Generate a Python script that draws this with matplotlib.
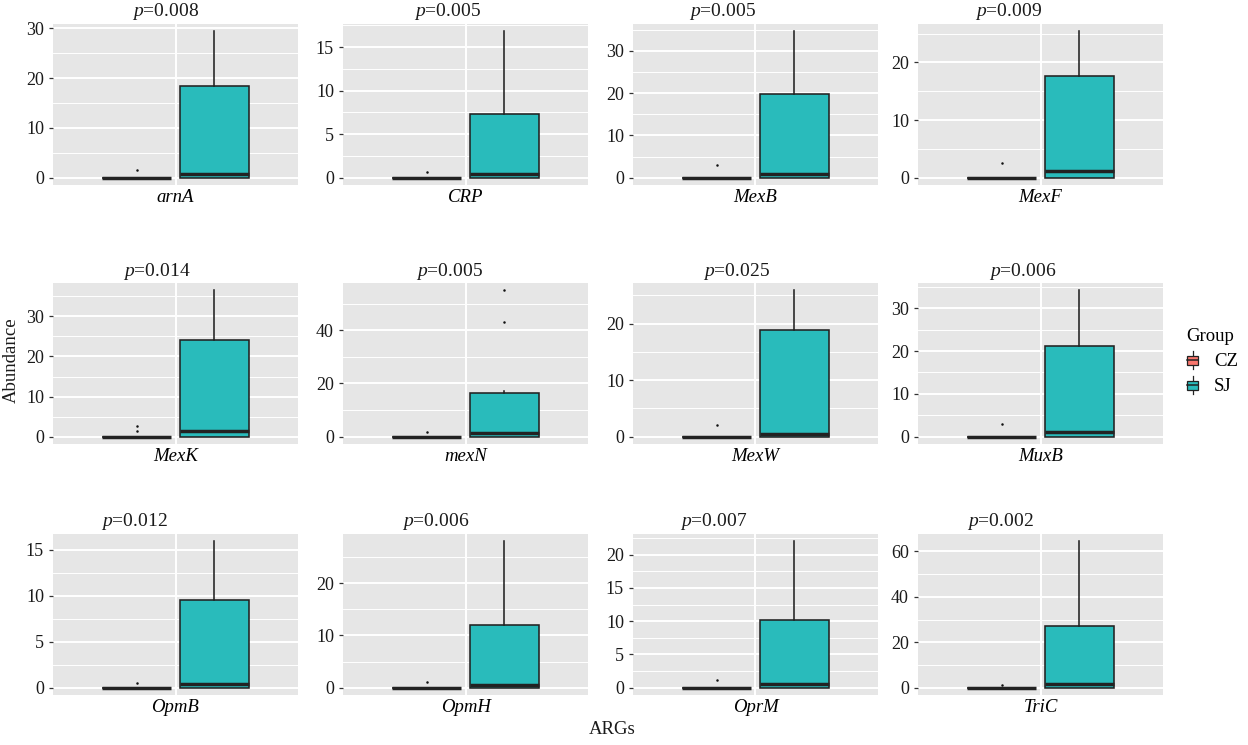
import matplotlib
matplotlib.use("Agg")
import matplotlib.pyplot as plt
from matplotlib.patches import Rectangle, Patch
from matplotlib.lines import Line2D
from matplotlib.legend_handler import HandlerBase
from matplotlib.ticker import FixedLocator, MultipleLocator

plt.rcParams['font.family'] = ['Liberation Serif', 'DejaVu Serif']
plt.rcParams['mathtext.fontset'] = 'custom'
plt.rcParams['mathtext.it'] = 'Liberation Serif:italic'
plt.rcParams['mathtext.rm'] = 'Liberation Serif'

# ---------------- data ----------------
genes = ["arnA", "CRP", "MexB", "MexF", "MexK", "mexN",
         "MexW", "MuxB", "OpmB", "OpmH", "OprM", "TriC"]
p_values = ["0.008", "0.005", "0.005", "0.009", "0.014", "0.005",
            "0.025", "0.006", "0.012", "0.006", "0.007", "0.002"]
groups = ["CZ", "SJ"]

# SJ group box statistics (q1 and lower whisker are 0)
sj_median = [0.7, 0.45, 0.85, 1.1, 1.4, 1.3, 0.5, 1.15, 0.45, 0.6, 0.6, 1.8]
sj_q3 = [18.5, 7.35, 19.7, 17.6, 24.0, 16.6, 18.9, 21.3, 9.55, 11.9, 10.1, 27.1]
sj_whisker_hi = [29.4, 16.8, 34.6, 25.4, 36.5, 17.0, 25.9, 34.2, 15.9, 28.0, 22.0, 64.4]
sj_outliers = [[], [], [], [], [], [43.2, 55.0], [], [], [], [], [], []]

# CZ group: all quartiles 0, only outliers
cz_outliers = [[1.5], [0.6], [3.1], [2.5], [1.5, 2.7], [1.9],
               [2.1], [2.9], [0.5], [1.0], [1.1], [1.3]]

y_ticks = [[0, 10, 20, 30], [0, 5, 10, 15], [0, 10, 20, 30], [0, 10, 20],
           [0, 10, 20, 30], [0, 20, 40], [0, 10, 20], [0, 10, 20, 30],
           [0, 5, 10, 15], [0, 10, 20], [0, 5, 10, 15, 20], [0, 20, 40, 60]]

colors = ["#F8766D", "#29BBBB"]

# ---------------- layout (pixels) ----------------
W, H = 1248, 745
col_left = [53, 343, 633, 918]
panel_w = 245
row_top = [24, 283, 534]
panel_h = 161
title_dx = [-10, -18, -33, -32, -19, -16, -19, -18, -41, -30, -42, -40]

fig = plt.figure(figsize=(W / 100, H / 100), dpi=100)

for i, gene in enumerate(genes):
    r, c = divmod(i, 4)
    left = col_left[c] / W
    bottom = 1 - (row_top[r] + panel_h) / H
    ax = fig.add_axes([left, bottom, panel_w / W, panel_h / H])
    ax.set_facecolor("#E6E6E6")
    for s in ax.spines.values():
        s.set_visible(False)

    cz_stats = dict(med=0, q1=0, q3=0, whislo=0, whishi=0,
                    fliers=cz_outliers[i], label=groups[0])
    sj_stats = dict(med=sj_median[i], q1=0, q3=sj_q3[i], whislo=0,
                    whishi=sj_whisker_hi[i], fliers=sj_outliers[i], label=groups[1])
    bp = ax.bxp([cz_stats, sj_stats], positions=[0.81, 1.19], widths=0.34,
                patch_artist=True, showcaps=False, manage_ticks=False,
                boxprops=dict(edgecolor="#222222", linewidth=1.15),
                medianprops=dict(color="#222222", linewidth=2.5, solid_capstyle="butt"),
                whiskerprops=dict(color="#222222", linewidth=1.15),
                flierprops=dict(marker="o", markersize=1.8, markerfacecolor="#111111",
                                markeredgecolor="none"))
    for patch, col in zip(bp["boxes"], colors):
        patch.set_facecolor(col)

    all_vals = [sj_whisker_hi[i]] + sj_outliers[i] + cz_outliers[i] + [0]
    top = max(all_vals)
    pad = 0.05 * top
    ax.set_ylim(-pad, top + pad)
    ax.set_xlim(0.4, 1.6)

    ticks = y_ticks[i]
    step = ticks[1] - ticks[0]
    ax.yaxis.set_major_locator(FixedLocator(ticks))
    ax.yaxis.set_minor_locator(MultipleLocator(step / 2))
    ax.set_yticklabels([str(t) for t in ticks])
    ax.set_xticks([1])
    ax.set_xticklabels([gene], fontstyle="italic", fontsize=13.5)
    ax.tick_params(axis="x", length=0, pad=3)
    ax.tick_params(axis="y", which="major", length=3, width=0.9, color="#333333",
                   pad=3.5, labelsize=13, labelcolor="#1a1a1a")
    ax.tick_params(axis="y", which="minor", length=0)
    ax.set_axisbelow(True)
    ax.grid(True, which="major", color="white", linewidth=1.4)
    ax.grid(True, which="minor", axis="y", color="white", linewidth=0.7)

    cx = (col_left[c] + panel_w / 2 + title_dx[i]) / W
    ty = 1 - (row_top[r] - 12) / H
    fig.text(cx, ty, r"$\mathit{p}$=" + p_values[i], ha="center", va="center",
             fontsize=14, color="#1a1a1a")


class BoxKey(HandlerBase):
    def create_artists(self, legend, orig_handle, xdescent, ydescent,
                       width, height, fontsize, trans):
        x0, y0 = -xdescent, -ydescent
        bw = width * 0.9
        bx = x0 + (width - bw) / 2
        bh = height * 0.5
        by = y0 + (height - bh) / 2
        ec = "#222222"
        cx = x0 + width / 2
        w1 = Line2D([cx, cx], [y0, by], color=ec, lw=0.9, transform=trans)
        w2 = Line2D([cx, cx], [by + bh, y0 + height], color=ec, lw=0.9, transform=trans)
        rect = Rectangle((bx, by), bw, bh, facecolor=orig_handle.get_facecolor(),
                         edgecolor=ec, lw=0.9, transform=trans)
        med = Line2D([bx, bx + bw], [y0 + height / 2] * 2, color=ec, lw=1.1,
                     transform=trans)
        return [w1, w2, rect, med]


handles = [Patch(facecolor=col) for col in colors]
fig.legend(handles=handles, labels=groups, title="Group",
           handler_map={Patch: BoxKey()}, loc="center left",
           bbox_to_anchor=(1186 / W, 1 - 362 / H), frameon=False,
           fontsize=13.5, title_fontsize=13.5, handlelength=0.7, handleheight=1.1,
           handletextpad=0.8, labelspacing=0.3, borderpad=0, borderaxespad=0,
           alignment="left")

fig.text(11 / W, 1 - 360 / H, "Abundance", rotation=90, ha="center", va="center",
         fontsize=13.5, color="#1a1a1a")
fig.text(612 / W, 1 - 730 / H, "ARGs", ha="center", va="center",
         fontsize=13.5, color="#1a1a1a")

fig.savefig("out.png", dpi=100)
